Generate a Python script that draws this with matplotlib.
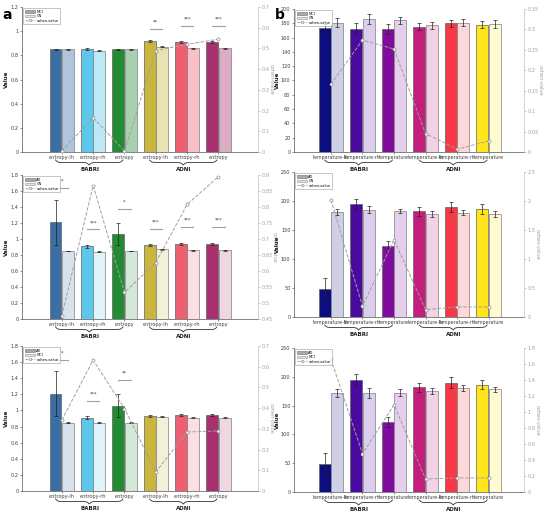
#!/usr/bin/env python3
"""Entropy / temperature group comparison (BABRI vs ADNI) with cohen-value overlay."""
import numpy as np
import matplotlib

matplotlib.use("Agg")
import matplotlib.pyplot as plt
from matplotlib.patches import Patch
from matplotlib.lines import Line2D

ENT_CATS = ["entropy-lh", "entropy-rh", "entropy", "entropy-lh", "entropy-rh", "entropy"]
TMP_CATS = ["temperature-lh", "temperature-rh", "temperature",
            "temperature-lh", "temperature-rh", "temperature"]

# column a (entropy)
a1_g1 = [0.85, 0.85, 0.85, 0.92, 0.91, 0.91]
a1_g2 = [0.85, 0.84, 0.85, 0.87, 0.86, 0.86]
a1_e1 = [0.005, 0.007, 0.005, 0.007, 0.006, 0.006]
a1_e2 = [0.004, 0.004, 0.004, 0.005, 0.004, 0.004]
a1_cohen = [0.005, 0.166, 0.005, 0.49, 0.52, 0.545]
a1_sig = [(3, 1.02, "**"), (4, 1.04, "***"), (5, 1.04, "***")]

a2_g1 = [1.21, 0.91, 1.06, 0.93, 0.94, 0.94]
a2_g2 = [0.85, 0.84, 0.85, 0.87, 0.86, 0.86]
a2_e1 = [0.28, 0.02, 0.14, 0.012, 0.014, 0.014]
a2_e2 = [0.006, 0.005, 0.006, 0.005, 0.005, 0.005]
a2_cohen = [0.46, 0.867, 0.533, 0.626, 0.808, 0.895]
a2_sig = [(0, 1.64, "*"), (1, 1.12, "***"), (2, 1.38, "*"),
          (3, 1.13, "***"), (4, 1.15, "***"), (5, 1.15, "***")]

a3_g1 = [1.21, 0.91, 1.06, 0.93, 0.94, 0.94]
a3_g2 = [0.85, 0.85, 0.85, 0.92, 0.91, 0.91]
a3_e1 = [0.28, 0.02, 0.14, 0.012, 0.014, 0.014]
a3_e2 = [0.006, 0.006, 0.006, 0.006, 0.006, 0.006]
a3_cohen = [0.342, 0.632, 0.398, 0.092, 0.285, 0.29]
a3_sig = [(0, 1.63, "*"), (1, 1.12, "***"), (2, 1.38, "**")]

# column b (temperature)
b1_g1 = [173, 172, 172, 175, 180, 178]
b1_g2 = [181, 186, 184, 177, 181, 179]
b1_e1 = [6, 8, 7, 5, 5, 5]
b1_e2 = [6, 7, 5, 5, 5, 5]
b1_cohen = [0.166, 0.274, 0.252, 0.045, 0.007, 0.027]

b2_g1 = [49, 195, 122, 182, 190, 186]
b2_g2 = [181, 185, 183, 177, 180, 178]
b2_e1 = [18, 9, 9, 8, 9, 8]
b2_e2 = [5, 6, 4, 5, 5, 5]
b2_cohen = [2.02, 0.185, 1.33, 0.127, 0.173, 0.173]

b3_g1 = [49, 195, 122, 182, 190, 186]
b3_g2 = [172, 172, 172, 175, 180, 178]
b3_e1 = [18, 9, 9, 8, 9, 8]
b3_e2 = [7, 8, 6, 5, 5, 5]
b3_cohen = [1.66, 0.478, 1.09, 0.162, 0.176, 0.176]

A_COLORS = ["#3a6ea5", "#5bc8ec", "#228b34", "#c9b63c", "#ef5f72", "#a8306e"]
B_COLORS = ["#0d0d82", "#4a0aa0", "#7e0d9e", "#c41d7b", "#f53a45", "#ffe51a"]

TXT = "#404040"
GREY = "#a0a0a0"


def lighten(c, f):
    rgb = np.array(matplotlib.colors.to_rgb(c))
    return tuple(rgb + (1 - rgb) * f)


def brace(ax, x0, x1, y0, h):
    t = np.linspace(0, 1, 301)
    half = t[:151]
    k = 60.0
    yh = 1 / (1 + np.exp(-k * half)) + 1 / (1 + np.exp(-k * (half - 0.5)))
    y = np.concatenate([yh, yh[-2::-1]])
    x = x0 + t * (x1 - x0)
    ax.plot(x, y0 - h * (y - 0.5), color="#303030", lw=0.6,
            transform=ax.get_xaxis_transform(), clip_on=False)


def panel(rect, cats, g1, g2, e1, e2, cohen, colors, light, ylim, yticks,
          rlim, rticks, xlim, names, sig=(), xfs=3.6):
    ax = fig.add_axes(rect)
    x = np.arange(1, len(cats) + 1)
    w = 0.38
    ax.bar(x - 0.2, g1, w, color=colors, edgecolor="#606060", lw=0.5, zorder=2)
    ax.bar(x + 0.2, g2, w, color=[lighten(c, light) for c in colors],
           edgecolor="#808080", lw=0.5, zorder=2)
    ax.errorbar(x - 0.2, g1, yerr=e1, fmt="none", ecolor="#202020",
                elinewidth=0.5, capsize=1.2, capthick=0.5, zorder=3)
    ax.errorbar(x + 0.2, g2, yerr=e2, fmt="none", ecolor="#202020",
                elinewidth=0.5, capsize=1.2, capthick=0.5, zorder=3)
    for i, yl, s in sig:
        ax.plot([x[i] - 0.2, x[i] + 0.2], [yl, yl], color=GREY, lw=0.8, zorder=3)
        ax.text(x[i], yl + (ylim[1] - ylim[0]) * 0.03, s, ha="center", va="bottom",
                fontsize=3.5, color=TXT)
    ax.set_xlim(*xlim)
    ax.set_ylim(*ylim)
    ax.set_yticks(yticks)
    ax.set_yticklabels([f"{v:g}" for v in yticks])
    ax.set_xticks(x)
    ax.set_xticklabels(cats)
    ax.tick_params(labelsize=3.6, colors=TXT, length=1.5, width=0.4, pad=1)
    ax.tick_params(axis="x", labelsize=xfs)
    ax.spines["top"].set_visible(False)
    ax.spines["right"].set_visible(False)
    for s in ("left", "bottom"):
        ax.spines[s].set_linewidth(0.5)
        ax.spines[s].set_color("#505050")
    ax.set_ylabel("Value", fontsize=4, fontweight="bold", color="#202020", labelpad=1)

    ax2 = ax.twinx()
    ax2.plot(x, cohen, ls="--", color=GREY, lw=0.7, marker="o", ms=2.2,
             mfc="white", mec="#909090", mew=0.5, zorder=4)
    ax2.set_ylim(*rlim)
    ax2.set_yticks(rticks)
    ax2.set_yticklabels([f"{v:g}" for v in rticks])
    ax2.tick_params(labelsize=3.6, colors="#a0a0a0", length=1.5, width=0.4, pad=1)
    for s in ("top", "left", "bottom"):
        ax2.spines[s].set_visible(False)
    ax2.spines["right"].set_color("#c0c0c0")
    ax2.spines["right"].set_linewidth(0.5)
    ax2.set_ylabel("cohen-value", fontsize=3.6, color="#a0a0a0", rotation=270, labelpad=3)

    hgt = rect[3] * 516
    brace(ax, x[0] - 0.2, x[2] - 0.05, -8 / hgt, 5 / hgt)
    brace(ax, x[3] - 0.2, x[5] - 0.05, -8 / hgt, 5 / hgt)
    for c, lab in ((x[1] - 0.1, "BABRI"), (x[4] - 0.1, "ADNI")):
        ax.text(c, -15 / hgt, lab, transform=ax.get_xaxis_transform(), ha="center",
                va="top", fontsize=4, fontweight="bold", color="#202020")

    handles = [Patch(facecolor="#a8a8a8", edgecolor="#707070", lw=0.4),
               Patch(facecolor="#e4e4e4", edgecolor="#909090", lw=0.4),
               Line2D([], [], ls="--", color=GREY, lw=0.6, marker="o", ms=1.8,
                      mfc="white", mec="#808080", mew=0.4)]
    leg = ax2.legend(handles, [names[0], names[1], "cohen-value"], loc="upper left",
                     fontsize=2.6, frameon=True, fancybox=False, handlelength=3,
                     handleheight=0.7, borderpad=0.3, labelspacing=0.15,
                     handletextpad=0.3, borderaxespad=0.4)
    leg.get_frame().set_linewidth(0.4)
    leg.get_frame().set_edgecolor("#808080")
    leg.set_zorder(10)
    return ax


fig = plt.figure(figsize=(5.46, 5.16), dpi=100)

ax_xlim = (-0.27, 7.26)
bx_xlim = (-0.17, 7.12)
ent_t = np.round(np.arange(0, 1.81, 0.2), 1)

panel([0.0403, 0.7054, 0.4322, 0.281], ENT_CATS, a1_g1, a1_g2, a1_e1, a1_e2, a1_cohen,
      A_COLORS, 0.6, (0, 1.2), np.round(np.arange(0, 1.21, 0.2), 1),
      (0, 0.7), np.round(np.arange(0, 0.71, 0.1), 1), ax_xlim, ("MCI", "CN"), a1_sig)
panel([0.0403, 0.3818, 0.4322, 0.2791], ENT_CATS, a2_g1, a2_g2, a2_e1, a2_e2, a2_cohen,
      A_COLORS, 0.8, (0, 1.8), ent_t,
      (0.45, 0.9), np.round(np.arange(0.45, 0.91, 0.05), 2), ax_xlim, ("AD", "CN"), a2_sig)
panel([0.0403, 0.0484, 0.4322, 0.2811], ENT_CATS, a3_g1, a3_g2, a3_e1, a3_e2, a3_cohen,
      A_COLORS, 0.8, (0, 1.8), ent_t,
      (0, 0.7), np.round(np.arange(0, 0.71, 0.1), 1), ax_xlim, ("AD", "MCI"), a3_sig)

panel([0.5385, 0.7054, 0.4212, 0.2772], TMP_CATS, b1_g1, b1_g2, b1_e1, b1_e2, b1_cohen,
      B_COLORS, 0.8, (0, 200), np.arange(0, 201, 20),
      (0, 0.35), np.round(np.arange(0, 0.351, 0.05), 2), bx_xlim, ("MCI", "CN"), xfs=3.4)
panel([0.5385, 0.3857, 0.4212, 0.281], TMP_CATS, b2_g1, b2_g2, b2_e1, b2_e2, b2_cohen,
      B_COLORS, 0.8, (0, 250), np.arange(0, 251, 50),
      (0, 2.5), np.round(np.arange(0, 2.51, 0.5), 1), bx_xlim, ("AD", "CN"), xfs=3.4)
panel([0.5385, 0.0465, 0.4212, 0.2791], TMP_CATS, b3_g1, b3_g2, b3_e1, b3_e2, b3_cohen,
      B_COLORS, 0.8, (0, 250), np.arange(0, 251, 50),
      (0, 1.8), np.round(np.arange(0, 1.81, 0.2), 1), bx_xlim, ("AD", "MCI"), xfs=3.4)

fig.text(0.005, 0.985, "a", fontsize=10, fontweight="bold", va="top")
fig.text(0.503, 0.985, "b", fontsize=10, fontweight="bold", va="top")

fig.savefig("out.png", dpi=100)
plt.close(fig)
